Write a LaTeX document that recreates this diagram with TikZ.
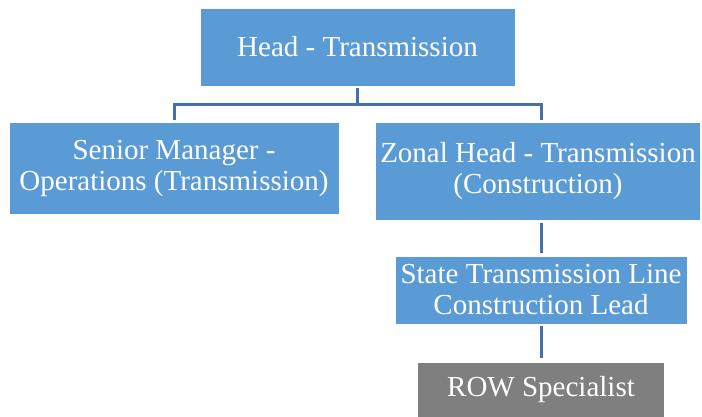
\documentclass[tikz,border=0pt]{standalone}
\usepackage{fontspec}
\setmainfont{Liberation Serif}
\definecolor{boxblue}{HTML}{5B9BD5}
\definecolor{boxgrey}{HTML}{7F7F7F}
\definecolor{linkblue}{RGB}{66,114,170}
\begin{document}
\begin{tikzpicture}[x=1pt,y=-1pt,
  orgbox/.style={fill=boxblue,draw=white,line width=0.6pt,text=white,align=center,inner sep=0pt,
    font=\fontsize{29}{31}\selectfont},
  greybox/.style={orgbox,fill=boxgrey},
  link/.style={draw=linkblue,line width=3pt}]
\useasboundingbox (0,0) rectangle (702,416);
\node[orgbox,minimum width=315pt,minimum height=78pt] (head) at (357.5,47) {Head - Transmission};
\node[orgbox,minimum width=330pt,minimum height=92pt] (senior) at (174,168) {Senior Manager -\\Operations (Transmission)};
\node[orgbox,minimum width=325pt,minimum height=98pt] (zonal) at (538,171) {Zonal Head - Transmission\\(Construction)};
\node[orgbox,minimum width=292pt,minimum height=68pt] (state) at (541,290) {State Transmission Line\\Construction Lead};
\node[greybox,minimum width=247pt,minimum height=56pt] (row) at (541,390) {ROW Specialist};
\coordinate (bar) at (357.5,104);
\coordinate (zdrop) at (541,104);
\draw[link] ([yshift=-2pt]head.south) -- (bar);
\draw[link] ([yshift=2pt]senior.north) |- (zdrop) -- ([yshift=2pt]zdrop |- zonal.north);
\draw[link] ([yshift=-3pt]state.north |- zonal.south) -- ([yshift=3pt]state.north);
\draw[link] ([yshift=-2pt]state.south) -- ([yshift=4pt]row.north);
\end{tikzpicture}
\end{document}
